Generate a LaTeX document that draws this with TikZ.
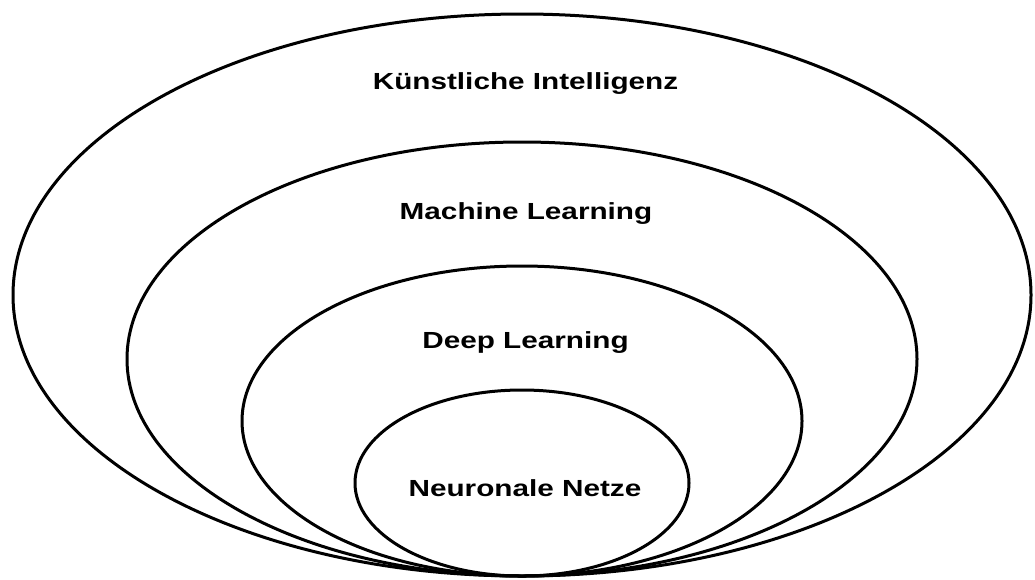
\documentclass[tikz,border=0pt]{standalone}
\usepackage{fontspec}
\setmainfont{Liberation Sans}

\begin{document}
\begin{tikzpicture}[x=1pt, y=-1pt, line width=3.0pt,
  ring/.style={draw=black, line width=3.0pt},
  lbl/.style={anchor=base, inner sep=0pt, xscale=1.275,
    font=\fontsize{23.3}{28}\selectfont\bfseries}]

  %% ════ Ellipsen (alle berühren sich unten bei y=576) ════
  \draw[ring] (522,295) ellipse [x radius=509, y radius=281];   % KI
  \draw[ring] (522,359) ellipse [x radius=395, y radius=217];   % ML
  \draw[ring] (522,421) ellipse [x radius=280, y radius=155];   % DL
  \draw[ring] (522,483) ellipse [x radius=167, y radius=93];    % NN

  %% ════ Beschriftungen (breit gezogen) ════
  \node[lbl] (ki) at (525.5,89.3)  {Künstliche Intelligenz};
  \node[lbl] (ml) at (526,219.3)   {Machine Learning};
  \node[lbl] (dl) at (525.5,348)   {Deep Learning};
  \node[lbl] (nn) at (525,496.7)   {Neuronale Netze};

  % Seite fest auf 1035 x 579
  \pgfresetboundingbox
  \path[use as bounding box] (0,0) rectangle (1035,579);
\end{tikzpicture}
\end{document}
